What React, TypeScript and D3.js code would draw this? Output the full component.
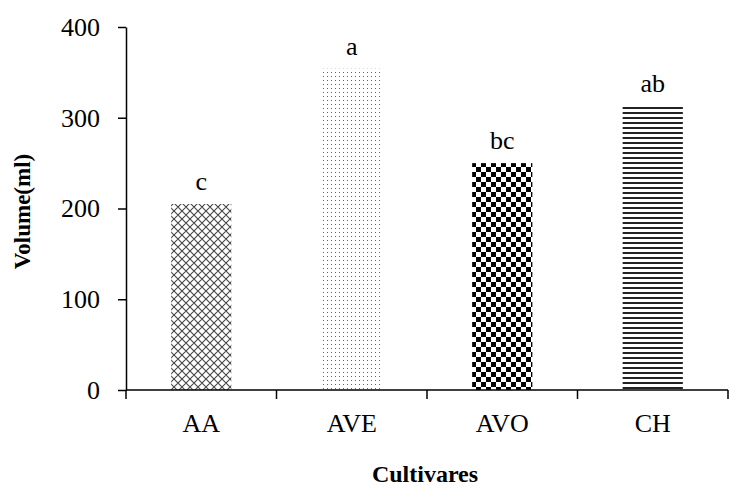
import { useEffect, useRef } from 'react'
import * as d3 from 'd3'

// chart data
const categories = ['AA', 'AVE', 'AVO', 'CH']
const volumes = [205, 354, 250, 313]
const letters = ['c', 'a', 'bc', 'ab']
const yTicks = [0, 100, 200, 300, 400]
const patterns = ['cross', 'dots', 'checker', 'hlines']

const FONT = '"Liberation Serif", "Times New Roman", serif'

export default function App() {
  const svgRef = useRef<SVGSVGElement | null>(null)

  useEffect(() => {
    if (!svgRef.current) return
    const width = 729
    const height = 488
    const margin = { top: 27, right: 1, bottom: 98, left: 126 }
    const innerW = width - margin.left - margin.right
    const innerH = height - margin.top - margin.bottom

    const root = d3.select(svgRef.current)
    root.selectAll('*').remove()
    root.attr('width', width).attr('height', height)

    // fill patterns
    const defs = root.append('defs')

    const cross = defs.append('pattern')
      .attr('id', 'cross').attr('patternUnits', 'userSpaceOnUse')
      .attr('width', 8).attr('height', 8)
    cross.append('rect').attr('width', 8).attr('height', 8).attr('fill', '#fff')
    cross.append('path').attr('d', 'M0,0 L8,8 M8,0 L0,8 M-4,4 L4,12 M4,-4 L12,4 M-4,4 L4,-4 M4,12 L12,4')
      .attr('stroke', '#444').attr('stroke-width', 1.1).attr('fill', 'none')

    const dots = defs.append('pattern')
      .attr('id', 'dots').attr('patternUnits', 'userSpaceOnUse')
      .attr('width', 4).attr('height', 4)
    dots.append('rect').attr('width', 4).attr('height', 4).attr('fill', '#fff')
    dots.append('rect').attr('x', 1).attr('y', 1).attr('width', 1).attr('height', 1).attr('fill', '#666')

    const checker = defs.append('pattern')
      .attr('id', 'checker').attr('patternUnits', 'userSpaceOnUse')
      .attr('width', 10).attr('height', 10)
    checker.append('rect').attr('width', 10).attr('height', 10).attr('fill', '#fff')
    checker.append('rect').attr('width', 5).attr('height', 5).attr('fill', '#000')
    checker.append('rect').attr('x', 5).attr('y', 5).attr('width', 5).attr('height', 5).attr('fill', '#000')

    const hlines = defs.append('pattern')
      .attr('id', 'hlines').attr('patternUnits', 'userSpaceOnUse')
      .attr('width', 8).attr('height', 5)
    hlines.append('rect').attr('width', 8).attr('height', 5).attr('fill', '#fff')
    hlines.append('rect').attr('y', 0).attr('width', 8).attr('height', 2).attr('fill', '#222')

    const svg = root.append('g').attr('transform', `translate(${margin.left},${margin.top})`)

    const x = d3.scaleBand<string>()
      .domain(categories)
      .range([0, innerW])
      .paddingInner(0.6)
      .paddingOuter(0.3)

    const y = d3.scaleLinear().domain([0, 400]).range([innerH, 0])

    // bars
    svg.selectAll('.bar')
      .data(categories)
      .enter()
      .append('rect')
      .attr('class', 'bar')
      .attr('x', (d) => x(d)!)
      .attr('y', (d, i) => y(volumes[i]))
      .attr('width', x.bandwidth())
      .attr('height', (d, i) => innerH - y(volumes[i]))
      .attr('fill', (d, i) => `url(#${patterns[i]})`)

    // significance letters
    svg.selectAll('.letter')
      .data(categories)
      .enter()
      .append('text')
      .attr('x', (d) => x(d)! + x.bandwidth() / 2)
      .attr('y', (d, i) => y(volumes[i]) - 14)
      .attr('text-anchor', 'middle')
      .style('font-family', FONT)
      .style('font-size', '26px')
      .style('fill', '#000')
      .text((d, i) => letters[i])

    // y axis
    const yAxis = svg.append('g')
      .call(d3.axisLeft(y).tickValues(yTicks).tickSize(8).tickPadding(18).tickSizeOuter(0))
    yAxis.select('.domain').attr('stroke', '#000').attr('stroke-width', 1.5)
    yAxis.selectAll('line').attr('stroke', '#000').attr('stroke-width', 1.5)
    yAxis.selectAll('text')
      .style('font-family', FONT)
      .style('font-size', '26px')
      .style('fill', '#000')

    // x axis: line with boundary ticks
    const xAxis = svg.append('g').attr('transform', `translate(0,${innerH})`)
    xAxis.append('line')
      .attr('x1', 0).attr('x2', innerW)
      .attr('stroke', '#000').attr('stroke-width', 1.5)
    xAxis.selectAll('.xtick')
      .data(d3.range(categories.length + 1))
      .enter()
      .append('line')
      .attr('x1', (i) => i * x.step())
      .attr('x2', (i) => i * x.step())
      .attr('y1', 0).attr('y2', 9)
      .attr('stroke', '#000').attr('stroke-width', 1.5)
    xAxis.selectAll('.xlabel')
      .data(categories)
      .enter()
      .append('text')
      .attr('x', (d) => x(d)! + x.bandwidth() / 2)
      .attr('y', 42)
      .attr('text-anchor', 'middle')
      .style('font-family', FONT)
      .style('font-size', '26px')
      .style('fill', '#000')
      .text((d) => d)

    // axis titles
    svg.append('text')
      .attr('x', innerW / 2 - 2)
      .attr('y', innerH + 92)
      .attr('text-anchor', 'middle')
      .style('font-family', FONT)
      .style('font-size', '24px')
      .style('font-weight', 'bold')
      .text('Cultivares')

    svg.append('text')
      .attr('transform', `translate(${-96},${innerH / 2 + 3}) rotate(-90)`)
      .attr('text-anchor', 'middle')
      .style('font-family', FONT)
      .style('font-size', '23px')
      .style('font-weight', 'bold')
      .text('Volume(ml)')
  }, [])

  return (
    <div style={{ position: 'absolute', left: 0, top: 0 }}>
      <svg ref={svgRef}></svg>
    </div>
  )
}
